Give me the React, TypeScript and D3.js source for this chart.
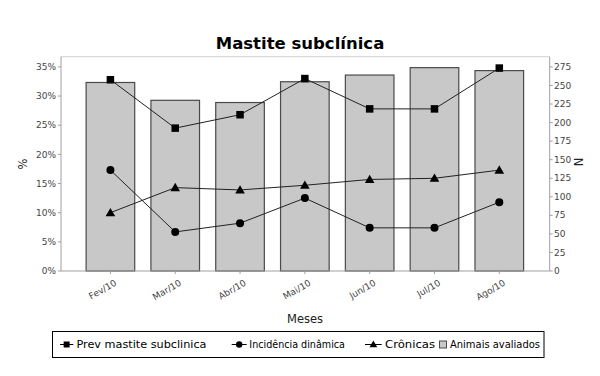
import React from "react";
import * as d3 from "d3";

const categories = ["Fev/10", "Mar/10", "Abr/10", "Mai/10", "Jun/10", "Jul/10", "Ago/10"];
const prevMastite = [32.8, 24.5, 26.8, 33.0, 27.8, 27.8, 34.8];
const incidencia = [17.3, 6.7, 8.2, 12.5, 7.4, 7.4, 11.8];
const cronicas = [10.0, 14.3, 13.9, 14.7, 15.7, 15.9, 17.3];
const animais = [254, 230, 227, 255, 264, 274, 270];
const leftTicks = [0, 5, 10, 15, 20, 25, 30, 35];
const rightTicks = [0, 25, 50, 75, 100, 125, 150, 175, 200, 225, 250, 275];

const W = 600;
const H = 376;
const plot = { left: 61, right: 549.7, top: 56.7, bottom: 271 };
const FONT = "DejaVu Sans, Verdana, sans-serif";

export default function App() {
  const x = d3
    .scaleBand<string>()
    .domain(categories)
    .range([78, 531.7])
    .paddingInner(0.25)
    .paddingOuter(0.125);
  const yL = d3.scaleLinear().domain([0, 36.75]).range([plot.bottom, plot.top]);
  const yR = d3.scaleLinear().domain([0, 288.75]).range([plot.bottom, plot.top]);
  const cx = (c: string) => (x(c) as number) + x.bandwidth() / 2;

  const line = d3
    .line<number>()
    .x((_, i) => cx(categories[i]))
    .y((d) => yL(d));

  const square = (px: number, py: number, k: string, s = 7.5) => (
    <rect key={k} x={px - s / 2} y={py - s / 2} width={s} height={s} fill="#000" />
  );
  const circle = (px: number, py: number, k: string, r = 4) => (
    <circle key={k} cx={px} cy={py} r={r} fill="#000" />
  );
  const triangle = (px: number, py: number, k: string, size = 40) => (
    <path
      key={k}
      d={d3.symbol().type(d3.symbolTriangle).size(size)() as string}
      transform={`translate(${px},${py + 0.8})`}
      fill="#000"
    />
  );

  const legendY = 344.5;
  const legendItems = [
    { label: "Prev mastite subclinica", x0: 60, x1: 73.3, tx: 76.5, tl: 130, kind: "square" },
    { label: "Incidência dinâmica", x0: 231.7, x1: 246.7, tx: 249.3, tl: 95.7, kind: "circle" },
    { label: "Crônicas", x0: 365, x1: 381.7, tx: 385, tl: 50, kind: "triangle" },
    { label: "Animais avaliados", x0: 440, x1: 447, tx: 450, tl: 90, kind: "bar" },
  ];

  return (
    <svg
      width={W}
      height={H}
      style={{ position: "absolute", left: 0, top: 0, background: "#fff" }}
      fontFamily={FONT}
    >
      <rect x={0} y={0} width={W} height={H} fill="#fff" />
      <text x={300} y={48.5} textAnchor="middle" fontSize={16.5} fontWeight="bold" fill="#000">
        Mastite subclínica
      </text>

      <line x1={plot.left} x2={plot.right} y1={plot.top} y2={plot.top} stroke="#d0d0d0" />

      {categories.map((c, i) => (
        <rect
          key={c}
          x={x(c)}
          y={yR(animais[i])}
          width={x.bandwidth()}
          height={plot.bottom - yR(animais[i])}
          fill="#c8c8c8"
          stroke="#4a4a4a"
          strokeWidth={1.2}
        />
      ))}

      <line x1={plot.left} x2={plot.left} y1={plot.top} y2={plot.bottom} stroke="#a0a0a0" />
      <line x1={plot.right} x2={plot.right} y1={plot.top} y2={plot.bottom} stroke="#a0a0a0" />
      <line x1={plot.left} x2={plot.right} y1={plot.bottom} y2={plot.bottom} stroke="#a0a0a0" />

      {leftTicks.map((t) => (
        <g key={"l" + t}>
          <line x1={58} x2={plot.left} y1={yL(t)} y2={yL(t)} stroke="#a0a0a0" />
          <text x={56} y={yL(t)} dy="0.35em" textAnchor="end" fontSize={9} fill="#444">
            {t + "%"}
          </text>
        </g>
      ))}
      {rightTicks.map((t) => (
        <g key={"r" + t}>
          <line x1={plot.right} x2={plot.right + 3} y1={yR(t)} y2={yR(t)} stroke="#a0a0a0" />
          <text x={554} y={yR(t)} dy="0.35em" textAnchor="start" fontSize={9} fill="#444">
            {t}
          </text>
        </g>
      ))}
      {categories.map((c) => (
        <g key={"x" + c}>
          <line x1={cx(c)} x2={cx(c)} y1={plot.bottom} y2={plot.bottom + 3} stroke="#a0a0a0" />
          <text
            transform={`translate(${cx(c) + 4},${plot.bottom + 9}) rotate(-30)`}
            textAnchor="end"
            dy="0.6em"
            fontSize={9}
            fill="#444"
          >
            {c}
          </text>
        </g>
      ))}

      <text x={305} y={323} textAnchor="middle" fontSize={11.5} fill="#222">
        Meses
      </text>
      <text transform="translate(27,164) rotate(-90)" textAnchor="middle" fontSize={11.5} fill="#222">
        %
      </text>
      <text transform="translate(583,162) rotate(-90)" textAnchor="middle" fontSize={11.5} fill="#222">
        N
      </text>

      <path d={line(prevMastite) as string} fill="none" stroke="#222" strokeWidth={1} />
      <path d={line(incidencia) as string} fill="none" stroke="#222" strokeWidth={1} />
      <path d={line(cronicas) as string} fill="none" stroke="#222" strokeWidth={1} />
      {categories.map((c, i) => square(cx(c), yL(prevMastite[i]), "s" + i))}
      {categories.map((c, i) => circle(cx(c), yL(incidencia[i]), "c" + i))}
      {categories.map((c, i) => triangle(cx(c), yL(cronicas[i]), "t" + i))}

      <rect x={52.5} y={331.5} width={491.5} height={26} fill="#fff" stroke="#000" />
      {legendItems.map((it) => {
        const mid = (it.x0 + it.x1) / 2;
        return (
          <g key={it.label}>
            {it.kind !== "bar" && (
              <line x1={it.x0} x2={it.x1} y1={legendY} y2={legendY} stroke="#000" />
            )}
            {it.kind === "square" && square(mid, legendY, "ls", 6)}
            {it.kind === "circle" && circle(mid, legendY, "lc", 3.2)}
            {it.kind === "triangle" && triangle(mid, legendY - 0.3, "lt", 26)}
            {it.kind === "bar" && (
              <rect x={it.x0 - 0.5} y={legendY - 3.5} width={7} height={7} fill="#c8c8c8" stroke="#4a4a4a" />
            )}
            <text
              x={it.tx}
              y={legendY}
              dy="0.36em"
              fontSize={11}
              fill="#000"
              textLength={it.tl}
              lengthAdjust="spacingAndGlyphs"
            >
              {it.label}
            </text>
          </g>
        );
      })}
    </svg>
  );
}
